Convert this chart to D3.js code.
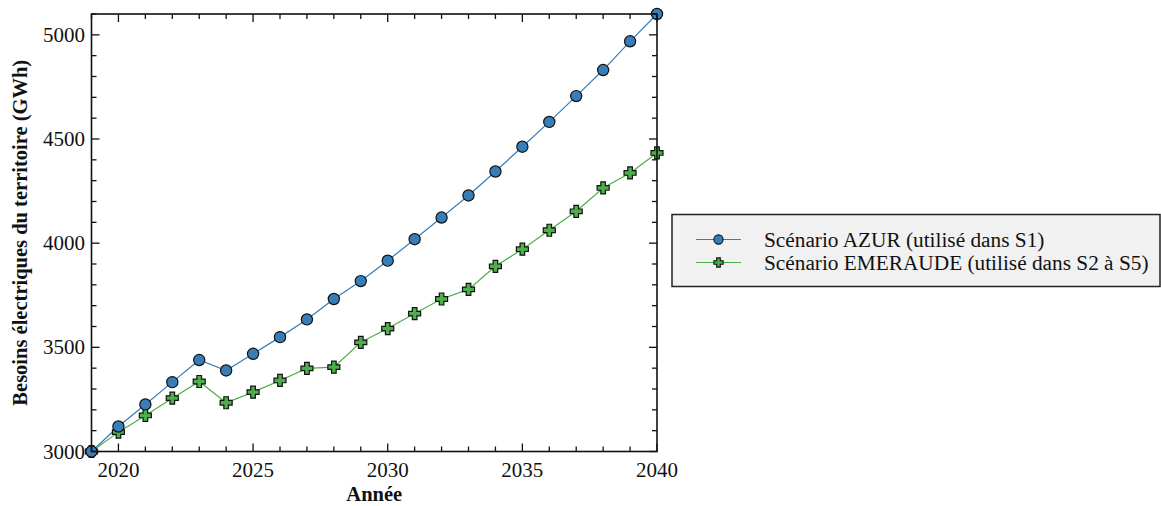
<!DOCTYPE html>
<html lang="fr">
<head>
<meta charset="UTF-8">
<title>Besoins électriques</title>
<script src="https://d3js.org/d3.v7.min.js"></script>
<style>
  body, html { margin: 0; padding: 0; background: #fff; }
  svg text { font-family: "Liberation Serif", "Times New Roman", serif; fill: #111; }
</style>
</head>
<body>
<div id="chart"></div>
<script>
// data
var years = d3.range(2019, 2041);
var azur = [3000, 3120, 3226, 3333, 3439, 3389, 3469, 3549, 3634, 3732, 3818,
            3916, 4019, 4123, 4229, 4344, 4463, 4582, 4706, 4831, 4969, 5100];
var emeraude = [3000, 3093, 3173, 3256, 3336, 3234, 3285, 3341, 3399, 3405, 3524,
                3590, 3662, 3732, 3778, 3889, 3971, 4062, 4153, 4265, 4337, 4433];
var seriesNames = ["Scénario AZUR (utilisé dans S1)", "Scénario EMERAUDE (utilisé dans S2 à S5)"];
var xTicks = [2020, 2025, 2030, 2035, 2040];
var yTicks = [3000, 3500, 4000, 4500, 5000];

var width = 1161, height = 506;
var mLeft = 91.5, mRight = 657, mTop = 14, mBottom = 451.5;

var svg = d3.select("#chart").append("svg")
    .attr("width", width)
    .attr("height", height);

var x = d3.scaleLinear().domain([2019, 2040]).range([mLeft, mRight]);
var y = d3.scaleLinear().domain([3000, 5100]).range([mBottom, mTop]);

var blue = "#377eb8", green = "#4daf4a";

// plus marker path centred on 0,0
function plusPath(a, b) {
    return "M" + (-b) + "," + (-a) + "L" + (-b) + "," + (-b) + "L" + (-a) + "," + (-b) +
        "L" + (-a) + "," + b + "L" + (-b) + "," + b + "L" + (-b) + "," + a +
        "L" + b + "," + a + "L" + b + "," + b + "L" + a + "," + b +
        "L" + a + "," + (-b) + "L" + b + "," + (-b) + "L" + b + "," + (-a) + "Z";
}

var plot = svg.append("g");
plot.append("clipPath").attr("id", "clip")
    .append("rect").attr("x", mLeft - 8).attr("y", mTop - 8)
    .attr("width", mRight - mLeft + 16).attr("height", mBottom - mTop + 16);

var line = d3.line().x(function (d) { return x(d[0]); }).y(function (d) { return y(d[1]); });
var dataA = years.map(function (yr, i) { return [yr, azur[i]]; });
var dataE = years.map(function (yr, i) { return [yr, emeraude[i]]; });

var marks = plot.append("g").attr("clip-path", "url(#clip)");

marks.append("path").datum(dataA).attr("d", line)
    .attr("fill", "none").attr("stroke", blue).attr("stroke-width", 1.2);
marks.append("path").datum(dataE).attr("d", line)
    .attr("fill", "none").attr("stroke", green).attr("stroke-width", 1.2);

marks.selectAll(".pe").data(dataE).enter().append("path")
    .attr("transform", function (d) { return "translate(" + x(d[0]) + "," + y(d[1]) + ")"; })
    .attr("d", plusPath(6, 2.3))
    .attr("fill", green).attr("stroke", "#111").attr("stroke-width", 1.2);

marks.selectAll(".ca").data(dataA).enter().append("circle")
    .attr("cx", function (d) { return x(d[0]); })
    .attr("cy", function (d) { return y(d[1]); })
    .attr("r", 5.6)
    .attr("fill", blue).attr("stroke", "#111").attr("stroke-width", 1.2);

// axes, ticks inward on all four sides
var xMinor = d3.range(2019, 2041), yMinor = d3.range(3000, 5101, 100);

function isMajorX(v) { return v % 5 === 0; }
function isMajorY(v) { return v % 500 === 0; }

var axisG = svg.append("g").attr("stroke", "#111").attr("stroke-width", 1.3);
xMinor.forEach(function (v) {
    var len = isMajorX(v) ? 8 : 5;
    axisG.append("line").attr("x1", x(v)).attr("x2", x(v)).attr("y1", mBottom).attr("y2", mBottom - len);
    axisG.append("line").attr("x1", x(v)).attr("x2", x(v)).attr("y1", mTop).attr("y2", mTop + len);
});
yMinor.forEach(function (v) {
    var len = isMajorY(v) ? 8 : 5;
    axisG.append("line").attr("x1", mLeft).attr("x2", mLeft + len).attr("y1", y(v)).attr("y2", y(v));
    axisG.append("line").attr("x1", mRight).attr("x2", mRight - len).attr("y1", y(v)).attr("y2", y(v));
});

svg.append("rect")
    .attr("x", mLeft).attr("y", mTop)
    .attr("width", mRight - mLeft).attr("height", mBottom - mTop)
    .attr("fill", "none").attr("stroke", "#111").attr("stroke-width", 1.6);

svg.selectAll(".xl").data(xTicks).enter().append("text")
    .attr("x", function (d) { return x(d); })
    .attr("y", 477)
    .attr("text-anchor", "middle")
    .style("font-size", "21px")
    .text(function (d) { return d; });

svg.selectAll(".yl").data(yTicks).enter().append("text")
    .attr("x", 85)
    .attr("y", function (d) { return y(d) + 7; })
    .attr("text-anchor", "end")
    .style("font-size", "21px")
    .text(function (d) { return d; });

svg.append("text")
    .attr("x", (mLeft + mRight) / 2).attr("y", 501)
    .attr("text-anchor", "middle")
    .style("font-size", "20.5px").style("font-weight", "bold")
    .text("Année");

svg.append("text")
    .attr("transform", "translate(27," + ((mTop + mBottom) / 2) + ") rotate(-90)")
    .attr("text-anchor", "middle")
    .style("font-size", "20.5px").style("font-weight", "bold")
    .text("Besoins électriques du territoire (GWh)");

// legend
var lg = svg.append("g");
lg.append("rect")
    .attr("x", 672).attr("y", 214.5).attr("width", 488).attr("height", 72)
    .attr("fill", "#f1f1f1").attr("stroke", "#222").attr("stroke-width", 1.5);

var rows = [
    { name: seriesNames[0], color: blue, y: 239.5, kind: "circle" },
    { name: seriesNames[1], color: green, y: 262.5, kind: "plus" }
];
rows.forEach(function (r) {
    lg.append("line").attr("x1", 696).attr("x2", 741).attr("y1", r.y).attr("y2", r.y)
        .attr("stroke", r.color).attr("stroke-width", 1.2);
    if (r.kind === "circle") {
        lg.append("circle").attr("cx", 718.5).attr("cy", r.y).attr("r", 4.6)
            .attr("fill", r.color).attr("stroke", "#111").attr("stroke-width", 1.1);
    } else {
        lg.append("path").attr("transform", "translate(718.5," + r.y + ")")
            .attr("d", plusPath(4.6, 1.8))
            .attr("fill", r.color).attr("stroke", "#111").attr("stroke-width", 1.1);
    }
    lg.append("text").attr("x", 764).attr("y", r.y + 7)
        .style("font-size", "21.3px")
        .text(r.name);
});
</script>
</body>
</html>
